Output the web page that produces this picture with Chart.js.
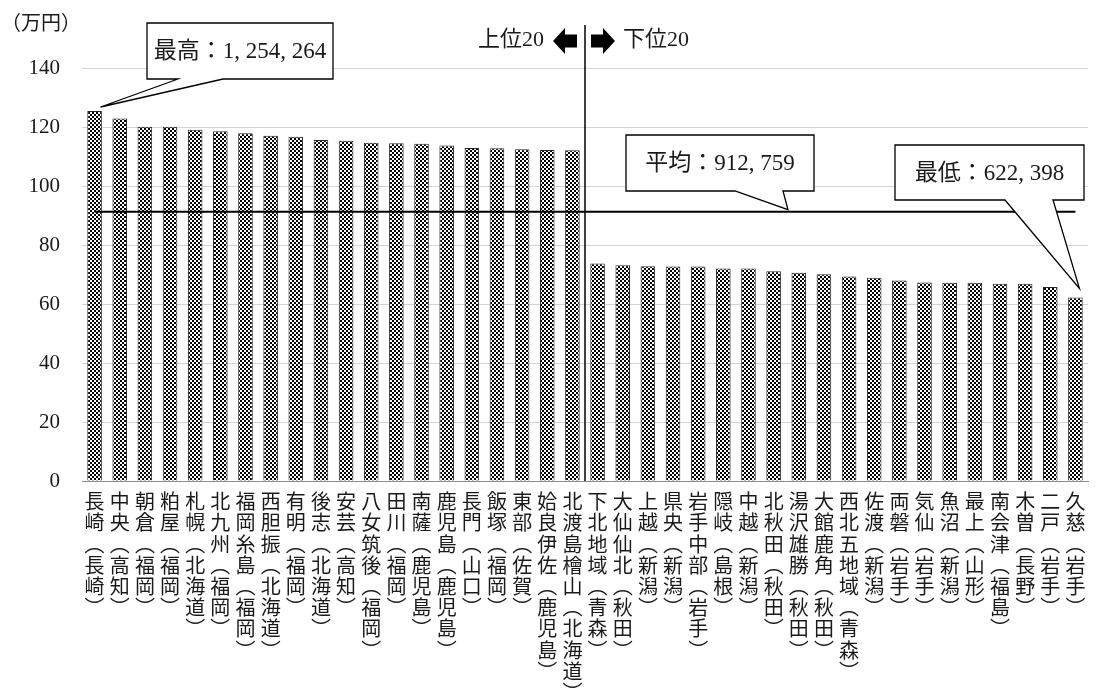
<!DOCTYPE html>
<html>
<head>
<meta charset="utf-8">
<script src="https://cdn.jsdelivr.net/npm/chart.js@4"></script>
<style>
  html, body { margin: 0; padding: 0; background: #fff; overflow: hidden; }
  #wrap { width: 1100px; height: 693px; position: relative; }
</style>
</head>
<body>
<div id="wrap"><canvas id="c" width="1100" height="693"></canvas></div>
<script>
// 二次医療圏ごとの一人当たり医療費（万円）：上位20・下位20
const regions = [
  "長崎（長崎）", "中央（高知）", "朝倉（福岡）", "粕屋（福岡）", "札幌（北海道）",
  "北九州（福岡）", "福岡糸島（福岡）", "西胆振（北海道）", "有明（福岡）", "後志（北海道）",
  "安芸（高知）", "八女筑後（福岡）", "田川（福岡）", "南薩（鹿児島）", "鹿児島（鹿児島）",
  "長門（山口）", "飯塚（福岡）", "東部（佐賀）", "姶良伊佐（鹿児島）", "北渡島檜山（北海道）",
  "下北地域（青森）", "大仙仙北（秋田）", "上越（新潟）", "県央（新潟）", "岩手中部（岩手）",
  "隠岐（島根）", "中越（新潟）", "北秋田（秋田）", "湯沢雄勝（秋田）", "大館鹿角（秋田）",
  "西北五地域（青森）", "佐渡（新潟）", "両磐（岩手）", "気仙（岩手）", "魚沼（新潟）",
  "最上（山形）", "南会津（福島）", "木曽（長野）", "二戸（岩手）", "久慈（岩手）"
];

const perCapita = [
  125.4264, 122.9, 120.1, 120.1, 119.1, 118.6, 117.9, 117.0, 116.7, 115.6,
  115.3, 114.7, 114.5, 114.3, 113.7, 112.9, 112.8, 112.5, 112.2, 112.1,
  73.7, 73.1, 72.8, 72.7, 72.7, 72.0, 72.0, 71.1, 70.6, 70.1,
  69.3, 68.9, 68.0, 67.3, 67.2, 67.2, 66.9, 66.9, 65.8, 62.2398
];

const averageValue = 91.2759;
const yTicks = [0, 20, 40, 60, 80, 100, 120, 140];
const groupLabels = ["上位20", "下位20"];
const unitLabel = "（万円）";

// Vertical label: one character per line, brackets turned to their vertical forms
function verticalLabel(s) {
  return Array.from(s).map(ch => ch === "（" ? "︵" : ch === "）" ? "︶" : ch);
}

// Yen amount written with the comma + space style of the callouts
function yen(v) {
  return Math.round(v * 10000).toString().replace(/\B(?=(\d{3})+(?!\d))/g, ", ");
}

// Fine black/white checkerboard used as the bar fill
function checkerPattern() {
  const p = document.createElement("canvas");
  p.width = 4; p.height = 4;
  const g = p.getContext("2d");
  g.fillStyle = "#ffffff"; g.fillRect(0, 0, 4, 4);
  g.fillStyle = "#000000";
  g.fillRect(0, 0, 2, 2); g.fillRect(2, 2, 2, 2);
  return g.createPattern(p, "repeat");
}

const SERIF = "'Liberation Serif', 'Noto Sans CJK JP', serif";
const CJK = "'Noto Sans CJK JP', sans-serif";

function callout(ctx, box, b1, b2, tip, text) {
  const [x, y, w, h] = box;
  ctx.save();
  ctx.beginPath();
  ctx.moveTo(x, y);
  ctx.lineTo(x + w, y);
  ctx.lineTo(x + w, y + h);
  ctx.lineTo(b2, y + h);
  ctx.lineTo(tip[0], tip[1]);
  ctx.lineTo(b1, y + h);
  ctx.lineTo(x, y + h);
  ctx.closePath();
  ctx.fillStyle = "#ffffff";
  ctx.fill();
  ctx.strokeStyle = "#000000";
  ctx.lineWidth = 1.3;
  ctx.stroke();
  ctx.fillStyle = "#1a1a1a";
  ctx.font = "23px " + SERIF;
  ctx.textAlign = "center";
  ctx.textBaseline = "middle";
  ctx.fillText(text, x + w / 2, y + h / 2 + 1);
  ctx.restore();
}

function blockArrow(ctx, tipX, y, dir) {
  // dir = -1 points left, +1 points right
  const headLen = 12, headHalf = 13, shaftLen = 12, shaftHalf = 6.5;
  const neck = tipX - dir * headLen;
  const tail = neck - dir * shaftLen;
  ctx.beginPath();
  ctx.moveTo(tipX, y);
  ctx.lineTo(neck, y - headHalf);
  ctx.lineTo(neck, y - shaftHalf);
  ctx.lineTo(tail, y - shaftHalf);
  ctx.lineTo(tail, y + shaftHalf);
  ctx.lineTo(neck, y + shaftHalf);
  ctx.lineTo(neck, y + headHalf);
  ctx.closePath();
  ctx.fill();
}

const overlay = {
  id: "overlay",
  afterDatasetsDraw(chart) {
    const { ctx, scales: { x, y } } = chart;
    const n = perCapita.length;

    // average line across the categories
    const yAvg = y.getPixelForValue(averageValue);
    ctx.save();
    ctx.strokeStyle = "#000";
    ctx.lineWidth = 2;
    ctx.beginPath();
    ctx.moveTo(x.getPixelForValue(0), yAvg);
    ctx.lineTo(x.getPixelForValue(n - 1), yAvg);
    ctx.stroke();

    // divider between the top 20 and bottom 20
    const xDiv = (x.getPixelForValue(19) + x.getPixelForValue(20)) / 2;
    ctx.lineWidth = 1.5;
    ctx.beginPath();
    ctx.moveTo(xDiv, 25);
    ctx.lineTo(xDiv, y.getPixelForValue(0));
    ctx.stroke();

    ctx.fillStyle = "#000";
    blockArrow(ctx, xDiv - 32, 41, -1);
    blockArrow(ctx, xDiv + 30, 41, 1);

    ctx.fillStyle = "#1a1a1a";
    ctx.font = "22px " + SERIF;
    ctx.textBaseline = "middle";
    ctx.textAlign = "right";
    ctx.fillText(groupLabels[0], xDiv - 41, 40);
    ctx.textAlign = "left";
    ctx.fillText(groupLabels[1], xDiv + 38, 40);

    // unit label
    ctx.font = "20px " + CJK;
    ctx.textAlign = "left";
    ctx.fillText(unitLabel, 1, 22);
    ctx.restore();

    // callouts
    const xMax = x.getPixelForValue(0), yMax = y.getPixelForValue(perCapita[0]);
    callout(ctx, [147, 23, 186, 56], 178, 223, [xMax + 6, yMax - 4],
      "最高：" + yen(perCapita[0]));

    callout(ctx, [626, 135, 188, 56], 735, 783, [788, yAvg - 2],
      "平均：" + yen(averageValue));

    const xMin = x.getPixelForValue(n - 1), yMin = y.getPixelForValue(perCapita[n - 1]);
    callout(ctx, [895, 145, 189, 55], 1005, 1053, [xMin + 4, yMin - 9],
      "最低：" + yen(perCapita[n - 1]));
  }
};

new Chart(document.getElementById("c"), {
  type: "bar",
  data: {
    labels: regions.map(verticalLabel),
    datasets: [{
      data: perCapita,
      backgroundColor: checkerPattern(),
      borderColor: "#2a2a2a",
      borderWidth: 1,
      barPercentage: 0.58,
      categoryPercentage: 1.0
    }]
  },
  options: {
    responsive: false,
    animation: false,
    devicePixelRatio: 1,
    layout: { padding: { top: 68, right: 12, left: 0, bottom: 0 } },
    plugins: { legend: { display: false }, tooltip: { enabled: false } },
    scales: {
      x: {
        offset: true,
        grid: { display: false, drawTicks: false },
        border: { display: true, color: "#8c8c8c", width: 1 },
        ticks: {
          autoSkip: false,
          maxRotation: 0,
          minRotation: 0,
          padding: 10,
          color: "#1a1a1a",
          font: { family: CJK, size: 20, lineHeight: 1.06 }
        },
        afterFit(s) { s.height = 212; }
      },
      y: {
        min: 0,
        max: 140,
        afterBuildTicks(s) { s.ticks = yTicks.map(v => ({ value: v })); },
        grid: { color: "#d4d4d4", drawTicks: false },
        border: { display: false },
        ticks: {
          padding: 22,
          color: "#1a1a1a",
          font: { family: SERIF, size: 21 }
        },
        afterFit(s) { s.width = 82; }
      }
    }
  },
  plugins: [overlay]
});
</script>
</body>
</html>
